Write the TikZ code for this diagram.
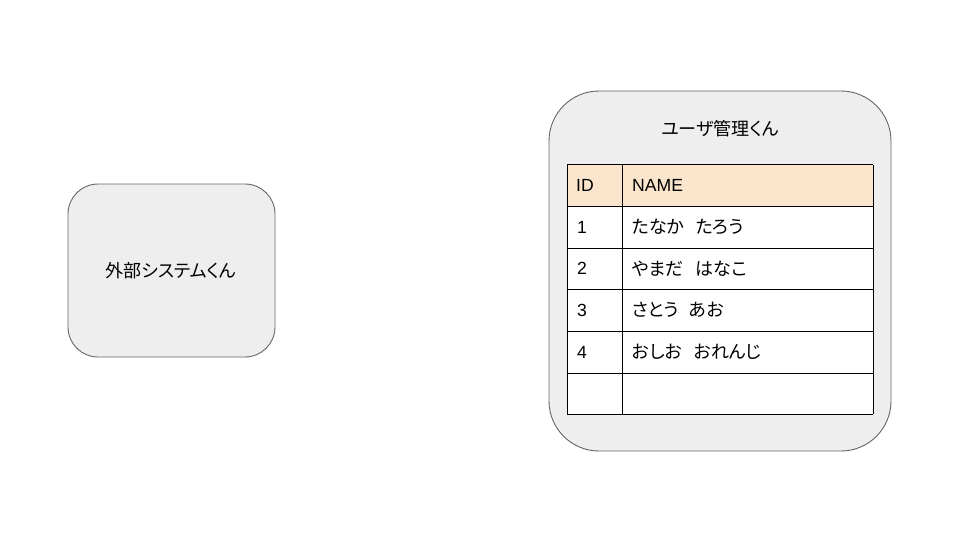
\documentclass[tikz,border=0pt]{standalone}
\usepackage{fontspec}
\setmainfont{Liberation Sans}
\newfontfamily\jpfont[RawFeature=+palt]{Noto Sans CJK JP}
\definecolor{boxfill}{HTML}{EEEEEE}
\definecolor{boxline}{HTML}{666666}
\definecolor{headfill}{HTML}{FCE5CD}
\begin{document}
\begin{tikzpicture}[x=1pt,y=-1pt,
  sysbox/.style={draw=boxline,fill=boxfill,line width=0.9pt},
  cellline/.style={draw=black,line width=1pt},
  jtxt/.style={font=\fontsize{18}{21}\selectfont\jpfont,inner sep=0pt},
  celltxt/.style={anchor=west,inner sep=0pt,font=\fontsize{17.6}{20}\selectfont},
  jcell/.style={anchor=west,inner sep=0pt,font=\fontsize{18}{21}\selectfont\jpfont}
]
\useasboundingbox[fill=white] (0,0) rectangle (960,540);
% left box
\draw[sysbox,rounded corners=30] (68,184) rectangle (275,357);
\node[jtxt] (ext) at (171,271) {外部システムくん};
% right box
\draw[sysbox,rounded corners=50] (549,91) rectangle (891,451);
\node[jtxt] (title) at (720,129) {ユーザ管理くん};
% table
\fill[headfill] (567,165) rectangle (873,206);
\fill[white] (567,206) rectangle (873,414);
\foreach \y in {165,206,248,289,331,373,414} \draw[cellline] (567,\y) -- (873,\y);
\foreach \x in {567,622,873} \draw[cellline] (\x,165) -- (\x,414);
\node[celltxt] (h1) at (576,185.5) {ID};
\node[celltxt] (h2) at (632,185.5) {NAME};
\node[celltxt] (r1a) at (577,227) {1};
\node[jcell] (r1b) at (632,227) {たなか\hspace{12pt}たろう};
\node[celltxt] (r2a) at (577,268.5) {2};
\node[jcell] (r2b) at (632,268.5) {やまだ\hspace{12pt}はなこ};
\node[celltxt] (r3a) at (577,310) {3};
\node[jcell] (r3b) at (632,310) {さとう\hspace{10pt}あお};
\node[celltxt] (r4a) at (577,352) {4};
\node[jcell] (r4b) at (632,352) {おしお\hspace{12pt}おれんじ};
\end{tikzpicture}
\end{document}
